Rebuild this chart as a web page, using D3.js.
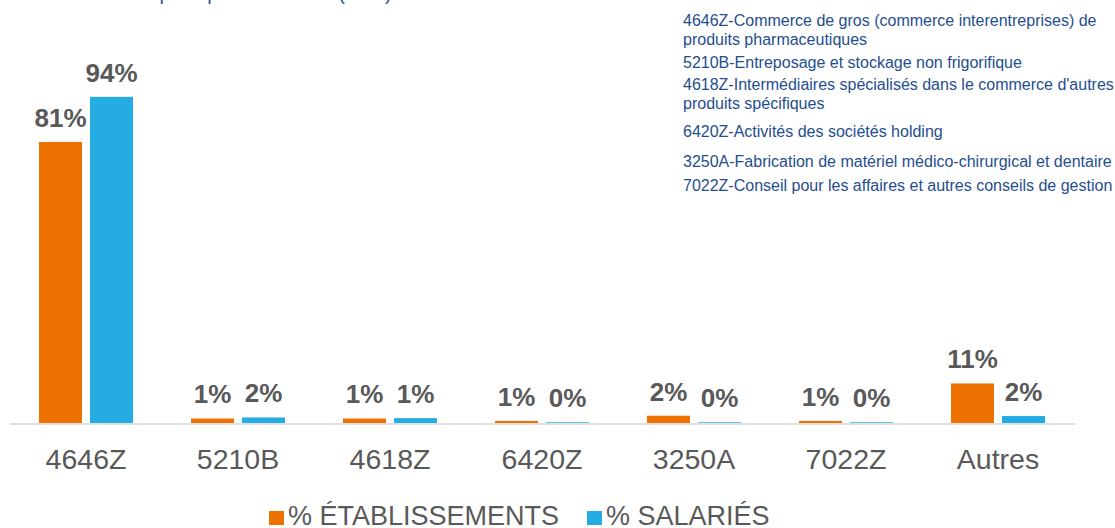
<!DOCTYPE html>
<html>
<head>
<meta charset="utf-8">
<script src="https://cdn.jsdelivr.net/npm/d3@7"></script>
<style>
    body { margin: 0; background: #fff; }
    svg text { font-family: "Liberation Sans", Arial, sans-serif; }
</style>
</head>
<body>
<div id="chart"></div>
<script>
// Data
const categories = ["4646Z", "5210B", "4618Z", "6420Z", "3250A", "7022Z", "Autres"];
const etablissements = [81, 1.3, 1.3, 0.6, 2.1, 0.6, 11.4];
const salaries = [94, 1.6, 1.4, 0.2, 0.2, 0.2, 2.0];
const seriesNames = ["% ÉTABLISSEMENTS", "% SALARIÉS"];
const seriesColors = ["#ED7100", "#25ACE2"];
const notes = [
    "4646Z-Commerce de gros (commerce interentreprises) de",
    "produits pharmaceutiques",
    "5210B-Entreposage et stockage non frigorifique",
    "4618Z-Intermédiaires spécialisés dans le commerce d'autres",
    "produits spécifiques",
    "6420Z-Activités des sociétés holding",
    "3250A-Fabrication de matériel médico-chirurgical et dentaire",
    "7022Z-Conseil pour les affaires et autres conseils de gestion"
];
const noteBaselines = [26, 45, 68, 90, 109, 137, 167, 191];

const width = 1115, height = 528;

let svg = d3.select("#chart")
    .append("svg")
    .attr("width", width)
    .attr("height", height);

// Title (cut off at the top of the picture)
svg.append("text")
    .attr("x", 66)
    .attr("y", -0.5)
    .style("font-size", "20px")
    .style("fill", "#2F5597")
    .text("Poids des principales activités (NAF) dans le total");

// Scales
let x0 = d3.scaleBand()
    .domain(categories)
    .range([10, 1074]);

let x1 = d3.scaleBand()
    .domain(seriesNames)
    .range([0, x0.bandwidth()])
    .paddingInner(0.157)
    .paddingOuter(0.569);

let y = d3.scaleLinear()
    .domain([0, 100])
    .range([423, 76]);

let rows = categories.map(function(c, i) {
    return { cat: c, values: [etablissements[i], salaries[i]] };
});

let groups = svg.selectAll(".cat")
    .data(rows)
    .enter()
    .append("g")
    .attr("transform", d => `translate(${x0(d.cat)}, 0)`);

// Bars
groups.selectAll("rect")
    .data(d => d.values.map((v, j) => ({ v: v, s: seriesNames[j], c: seriesColors[j] })))
    .enter()
    .append("rect")
    .attr("x", d => x1(d.s))
    .attr("width", x1.bandwidth())
    .attr("y", d => y(d.v))
    .attr("height", d => y(0) - y(d.v))
    .style("fill", d => d.c);

// Value labels
groups.selectAll(".lbl")
    .data(d => d.values.map((v, j) => ({ v: v, s: seriesNames[j] })))
    .enter()
    .append("text")
    .attr("x", d => x1(d.s) + x1.bandwidth() / 2)
    .attr("y", d => y(d.v) - 15)
    .style("text-anchor", "middle")
    .style("font-size", "26px")
    .style("font-weight", "bold")
    .style("fill", "#595959")
    .text(d => Math.round(d.v) + "%");

// Baseline
svg.append("line")
    .attr("x1", 10)
    .attr("x2", 1075)
    .attr("y1", y(0) + 1)
    .attr("y2", y(0) + 1)
    .style("stroke", "#D9D9D9")
    .style("stroke-opacity", 0.85)
    .style("stroke-width", 2);

// Category labels
let xAxis = svg.append("g")
    .attr("transform", `translate(0, ${y(0)})`)
    .call(d3.axisBottom(x0).tickSize(0).tickPadding(0));
xAxis.select(".domain").remove();
xAxis.selectAll("text")
    .attr("y", 46)
    .attr("dy", null)
    .style("font-size", "28.5px")
    .style("font-family", "'Liberation Sans', Arial, sans-serif")
    .style("fill", "#595959");

// Legend
let legend = svg.append("g")
    .attr("transform", "translate(269, 525)");
let legendOffsets = [0, 318];
seriesNames.forEach(function(name, j) {
    let item = legend.append("g").attr("transform", `translate(${legendOffsets[j]}, 0)`);
    item.append("rect")
        .attr("x", 0)
        .attr("y", -14)
        .attr("width", 15)
        .attr("height", 14)
        .style("fill", seriesColors[j]);
    item.append("text")
        .attr("x", 19)
        .attr("y", 0)
        .style("font-size", "27px")
        .style("fill", "#595959")
        .text(name);
});

// Code descriptions
svg.selectAll(".note")
    .data(notes)
    .enter()
    .append("text")
    .attr("x", 683)
    .attr("y", (d, i) => noteBaselines[i])
    .style("font-size", "16px")
    .style("fill", "#1F4E8F")
    .text(d => d);
</script>
</body>
</html>
